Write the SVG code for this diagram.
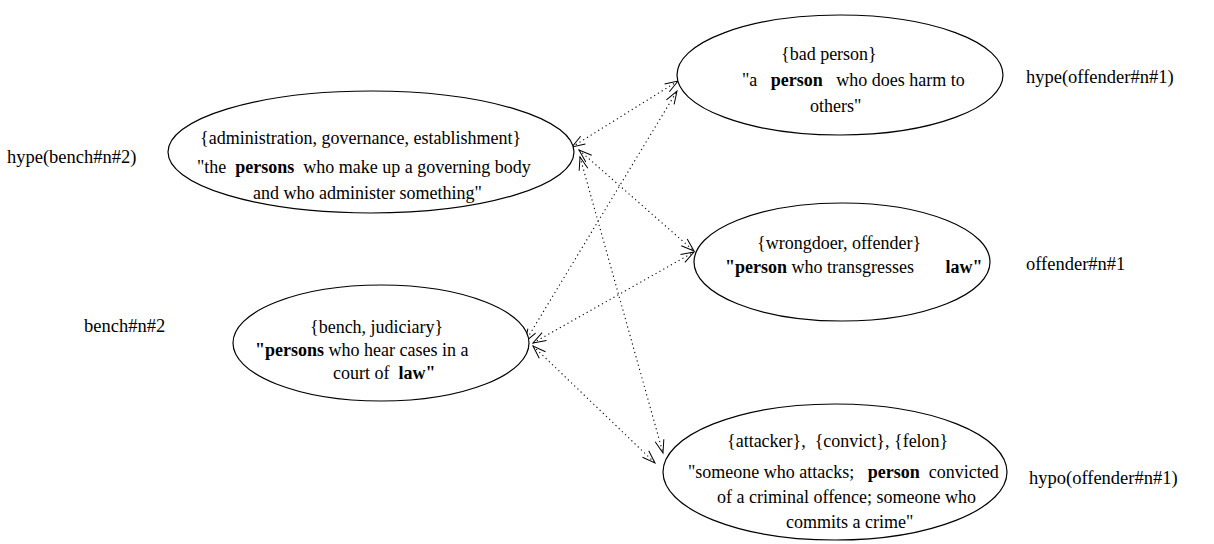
<svg xmlns="http://www.w3.org/2000/svg" width="1214" height="544" viewBox="0 0 1214 544">
<style>
.t{font-family:"Liberation Serif","Times New Roman",serif;font-size:18px;fill:#000}
.l{font-size:18.5px}
.b{font-weight:bold}
.n{fill:#fff;stroke:#000;stroke-width:1.2}
.c{fill:none;stroke:#000;stroke-width:1.1;stroke-dasharray:1.2 3.2;marker-start:url(#ah);marker-end:url(#ah)}
</style>
<defs>
<marker id="ah" markerUnits="userSpaceOnUse" markerWidth="16" markerHeight="12" refX="13" refY="5" orient="auto-start-reverse" overflow="visible">
<path d="M0,0.5 L13,5 L0,9.5" fill="none" stroke="#000" stroke-width="1"/>
</marker>
</defs>
<rect width="1214" height="544" fill="#fff"/>
<g id="connectors">
<line class="c" x1="572" y1="147" x2="678" y2="81"/>
<line class="c" x1="579" y1="150" x2="694" y2="251"/>
<line class="c" x1="580" y1="157" x2="663" y2="453"/>
<line class="c" x1="525" y1="342" x2="677" y2="91"/>
<line class="c" x1="533" y1="343" x2="694" y2="252"/>
<line class="c" x1="533" y1="346" x2="655" y2="463"/>
</g>
<g id="admin">
<ellipse class="n" cx="371" cy="152" rx="203" ry="61"/>
<text class="t" x="200" y="144" xml:space="preserve">{administration, governance, establishment}</text>
<text class="t" x="197" y="173" xml:space="preserve">"the  <tspan class="b">persons</tspan>  who make up a governing body</text>
<text class="t" x="253" y="199" xml:space="preserve">and who administer something"</text>
</g>
<g id="badperson">
<ellipse class="n" cx="840" cy="75" rx="163" ry="60"/>
<text class="t" x="781" y="60" xml:space="preserve">{bad person}</text>
<text class="t" x="742" y="86" xml:space="preserve">"a   <tspan class="b">person</tspan>   who does harm to</text>
<text class="t" x="810" y="112" xml:space="preserve">others"</text>
</g>
<g id="wrongdoer">
<ellipse class="n" cx="842" cy="262" rx="148" ry="59"/>
<text class="t" x="757" y="249" xml:space="preserve">{wrongdoer, offender}</text>
<text class="t" x="725" y="273" xml:space="preserve"><tspan class="b">"person</tspan> who transgresses       <tspan class="b">law"</tspan></text>
</g>
<g id="bench">
<ellipse class="n" cx="381" cy="343" rx="148" ry="58"/>
<text class="t" x="310" y="333" xml:space="preserve">{bench, judiciary}</text>
<text class="t" x="255" y="356" xml:space="preserve"><tspan class="b">"persons</tspan> who hear cases in a</text>
<text class="t" x="333" y="379" xml:space="preserve">court of  <tspan class="b">law"</tspan></text>
</g>
<g id="attacker">
<ellipse class="n" cx="835" cy="472" rx="172" ry="68"/>
<text class="t" x="727" y="447" xml:space="preserve">{attacker},  {convict}, {felon}</text>
<text class="t" x="688" y="478" xml:space="preserve">"someone who attacks;   <tspan class="b">person</tspan>  convicted</text>
<text class="t" x="717" y="503" xml:space="preserve">of a criminal offence; someone who</text>
<text class="t" x="786" y="528" xml:space="preserve">commits a crime"</text>
</g>
<g id="labels">
<text class="t l" x="7" y="163">hype(bench#n#2)</text>
<text class="t l" x="1026" y="83">hype(offender#n#1)</text>
<text class="t l" x="1026" y="270">offender#n#1</text>
<text class="t l" x="84" y="332">bench#n#2</text>
<text class="t l" x="1029" y="484">hypo(offender#n#1)</text>
</g>
</svg>
